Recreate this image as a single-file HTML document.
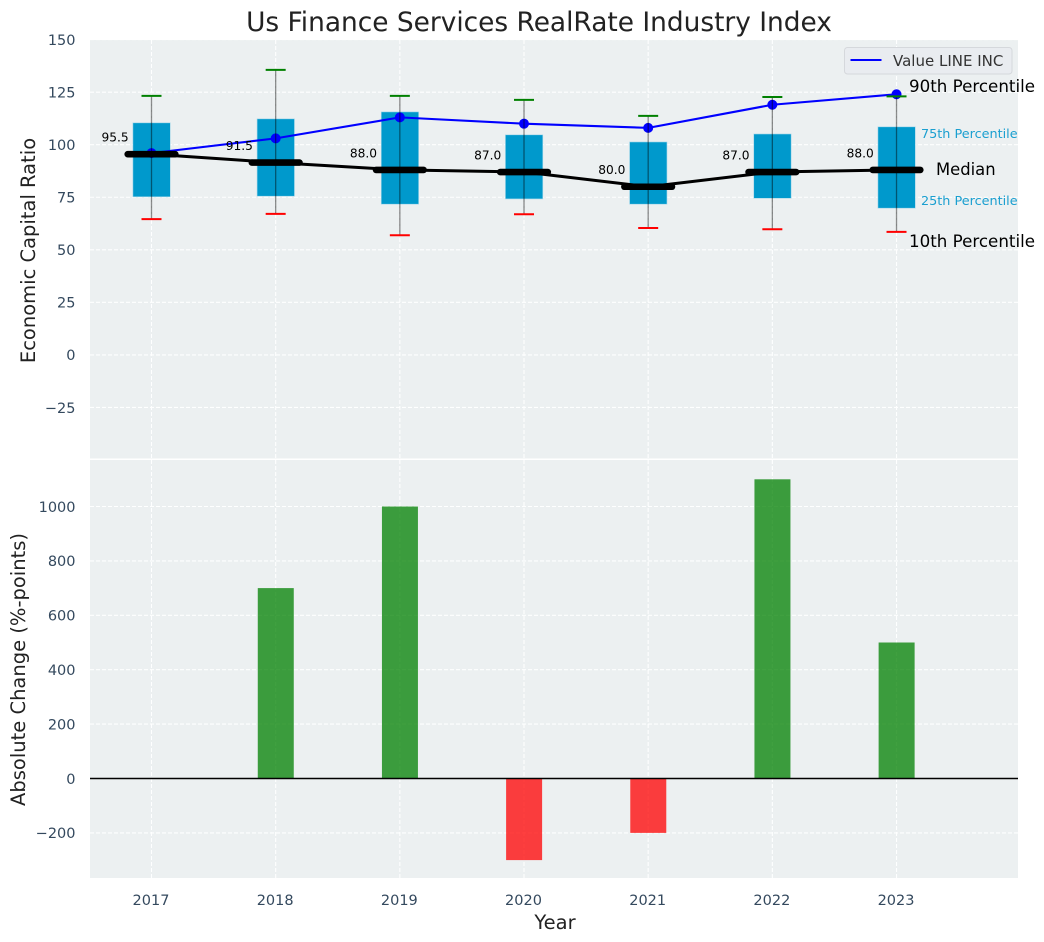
<!DOCTYPE html>
<html lang="en">
<head>
<meta charset="utf-8">
<title>Us Finance Services RealRate Industry Index</title>
<style>
html,body{margin:0;padding:0;background:#fff;}
svg{display:block;font-family:"DejaVu Sans","Liberation Sans",sans-serif;}
</style>
</head>
<body>
<svg id="chart" width="1044" height="942" viewBox="0 0 1044 942" xmlns="http://www.w3.org/2000/svg"></svg>
<script>
const years = [2017, 2018, 2019, 2020, 2021, 2022, 2023];
const p90 = [123.2, 135.6, 123.2, 121.3, 113.7, 122.7, 123];
const q3 = [110.4, 112.3, 115.6, 104.7, 101.3, 105.1, 108.5];
const medians = [95.5, 91.5, 88, 87, 80, 87, 88];
const q1 = [75.2, 75.5, 71.7, 74.2, 71.7, 74.5, 69.8];
const p10 = [64.6, 67.1, 56.9, 66.9, 60.4, 59.8, 58.5];
const company = [96, 103, 113, 110, 108, 119, 124];
const changes = [0, 700, 1000, -300, -200, 1100, 500];
const topTicks = [150, 125, 100, 75, 50, 25, 0, -25];
const bottomTicks = [1000, 800, 600, 400, 200, 0, -200];

const NS = 'http://www.w3.org/2000/svg';
const svg = document.getElementById('chart');
const L = 90, R = 1018, T1 = 40, B1 = 458.5, T2 = 460, B2 = 878;
const x = v => 151.5 + (v - 2017) * 124.17;
const y1 = v => 354.9 - v * 2.102;
const y2 = v => 778.5 - v * 0.272;

function el(tag, attrs, parent) {
  const e = document.createElementNS(NS, tag);
  for (const k in attrs) e.setAttribute(k, attrs[k]);
  (parent || svg).appendChild(e);
  return e;
}
function txt(str, attrs, parent) {
  const e = el('text', attrs, parent);
  e.textContent = str;
  return e;
}
function fmt(v) { return v < 0 ? '\u2212' + Math.abs(v) : String(v); }

/* panels */
const topPanel = el('rect', {x: L, y: T1, width: R - L, height: B1 - T1, fill: '#ecf0f1'});


const bottomPanel = el('rect', {x: L, y: T2, width: R - L, height: B2 - T2, fill: '#ecf0f1'});



/* grid */
const gridStyle = {stroke: '#fff', 'stroke-width': 1.1, 'stroke-dasharray': '4 2', fill: 'none', opacity: 0.95};
topTicks.forEach(t => {
  const yy = y1(t);
  const g = el('line', Object.assign({x1: L, x2: R, y1: yy, y2: yy}, gridStyle));
  
  
  const lab = txt(fmt(t), {x: 75.5, y: yy + 5.3, 'text-anchor': 'end', 'font-size': 14.5, fill: '#34495e'});
  
  
});
bottomTicks.forEach(t => {
  const yy = y2(t);
  const g = el('line', Object.assign({x1: L, x2: R, y1: yy, y2: yy}, gridStyle));
  
  
  const lab = txt(fmt(t), {x: 75.5, y: yy + 5.3, 'text-anchor': 'end', 'font-size': 14.5, fill: '#34495e'});
  
  
});
years.forEach(yr => {
  const xx = x(yr);
  const a = el('line', Object.assign({x1: xx, x2: xx, y1: T1, y2: B1}, gridStyle));
  
  
  const b = el('line', Object.assign({x1: xx, x2: xx, y1: T2, y2: B2}, gridStyle));
  
  
  const lab = txt(String(yr), {x: xx - 0.5, y: 905, 'text-anchor': 'middle', 'font-size': 14.5, fill: '#34495e'});
  
  
});

/* boxes */
years.forEach((yr, i) => {
  const xx = x(yr);
  const box = el('rect', {x: xx - 18.6, y: y1(q3[i]), width: 37.4, height: y1(q1[i]) - y1(q3[i]), fill: '#0099cc', stroke: '#a8d8ea', 'stroke-width': 0.6});
  
  
});

/* median connecting line */
const medLine = el('polyline', {points: years.map((yr, i) => x(yr) + ',' + y1(medians[i])).join(' '), fill: 'none', stroke: '#000', 'stroke-width': 3});



/* company line */
const valLine = el('polyline', {points: years.map((yr, i) => x(yr) + ',' + y1(company[i])).join(' '), fill: 'none', stroke: '#0000ff', 'stroke-width': 2.1});


years.forEach((yr, i) => {
  const dot = el('circle', {cx: x(yr), cy: y1(company[i]), r: 5, fill: '#0000ff'});
  
  
});

/* whiskers, caps, medians */
years.forEach((yr, i) => {
  const xx = x(yr);
  const w = el('line', {x1: xx, x2: xx, y1: y1(p90[i]), y2: y1(p10[i]), stroke: '#000', 'stroke-opacity': 0.45, 'stroke-width': 1.3});
  
  
  const c1 = el('line', {x1: xx - 10, x2: xx + 10, y1: y1(p90[i]), y2: y1(p90[i]), stroke: '#008000', 'stroke-width': 2});
  
  
  const c2 = el('line', {x1: xx - 10, x2: xx + 10, y1: y1(p10[i]), y2: y1(p10[i]), stroke: '#ff0000', 'stroke-width': 2});
  
  
  const m = el('line', {x1: xx - 23.8, x2: xx + 23.8, y1: y1(medians[i]), y2: y1(medians[i]), stroke: '#000', 'stroke-width': 6.6, 'stroke-linecap': 'round'});
  
  
  const lab = txt(medians[i].toFixed(1), {x: xx - 22.8, y: y1(medians[i]) - 12.5, 'text-anchor': 'end', 'font-size': 12.2, fill: '#000'});
  
  
});

/* annotations */
const an90 = txt('90th Percentile', {x: 909, y: 92, 'font-size': 16.7, fill: '#000'});


const an75 = txt('75th Percentile', {x: 921, y: 138, 'font-size': 12.8, fill: '#1a9fd0'});


const anMed = txt('Median', {x: 936, y: 175, 'font-size': 16.4, fill: '#000'});


const an25 = txt('25th Percentile', {x: 921, y: 205, 'font-size': 12.8, fill: '#1a9fd0'});


const an10 = txt('10th Percentile', {x: 909, y: 247, 'font-size': 16.7, fill: '#000'});



/* legend */
const legend = el('g', {});


const legendBox = el('rect', {x: 844.5, y: 47.5, width: 167.5, height: 26.5, rx: 3, fill: '#e9ecf0', stroke: '#d5d8dc', 'stroke-width': 1}, legend);


const legendLine = el('line', {x1: 850.5, x2: 881.5, y1: 60, y2: 60, stroke: '#0000ff', 'stroke-width': 2}, legend);


const legendText = txt('Value LINE INC', {x: 893, y: 66, 'font-size': 15, fill: '#333'}, legend);



/* bars */
years.forEach((yr, i) => {
  const v = changes[i];
  if (v === 0) return;
  const top = y2(Math.max(v, 0)), bot = y2(Math.min(v, 0));
  const bar = el('rect', {x: x(yr) - 17.9, y: top, width: 36, height: bot - top, fill: v > 0 ? '#008000' : '#ff0000', 'fill-opacity': 0.75});
  
  
});
const zero = el('line', {x1: L, x2: R, y1: y2(0), y2: y2(0), stroke: '#000', 'stroke-width': 1.4});



/* titles */
const title = txt('Us Finance Services RealRate Industry Index', {x: 539, y: 31, 'text-anchor': 'middle', 'font-size': 26.4, fill: '#222'});


const yl1 = txt('Economic Capital Ratio', {x: 0, y: 0, 'text-anchor': 'middle', 'font-size': 19.5, fill: '#222', transform: 'translate(35 250.5) rotate(-90)'});


const yl2 = txt('Absolute Change (%-points)', {x: 0, y: 0, 'text-anchor': 'middle', 'font-size': 19.5, fill: '#222', transform: 'translate(25 669.5) rotate(-90)'});


const xl = txt('Year', {x: 555, y: 929, 'text-anchor': 'middle', 'font-size': 19.5, fill: '#222'});


</script>
</body>
</html>
